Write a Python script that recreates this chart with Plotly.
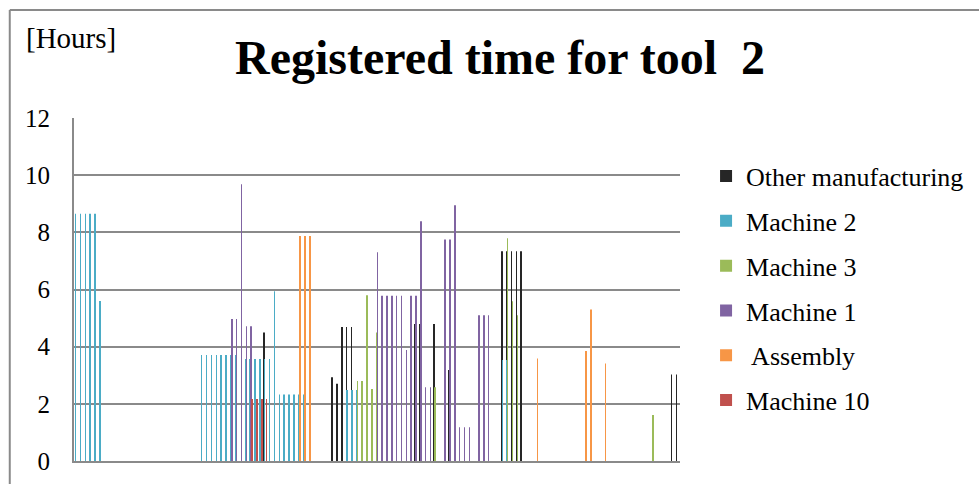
import plotly.graph_objects as go

# Daily registered hours per resource; slots are consecutive day indices (0..124)
n_slots = 125

other_slots = [39, 53, 54, 55, 56, 57, 70, 71, 74, 77, 88, 89, 90, 91, 92, 123, 124]
other_hours = [4.5, 2.93, 2.7, 4.69, 4.69, 4.69, 4.79, 4.79, 4.79, 3.18, 7.34, 7.34, 7.34, 7.34, 7.34, 3.03, 3.03]

m2_slots = [0, 1, 2, 3, 4, 5, 26, 27, 28, 29, 30, 31, 32, 33, 35, 36, 37, 38, 39, 40, 41,
            42, 43, 44, 45, 46, 47, 56, 57, 58, 59, 60, 88, 89]
m2_hours = [8.65, 8.65, 8.65, 8.65, 8.65, 5.6, 3.71, 3.71, 3.71, 3.71, 3.71, 3.71, 3.71, 3.71,
            3.57, 3.57, 3.57, 3.57, 3.57, 3.57, 5.94, 2.33, 2.33, 2.33, 2.33, 2.33, 2.33,
            2.48, 2.48, 2.48, 2.48, 2.48, 3.53, 3.53]

m3_slots = [58, 59, 60, 61, 62, 70, 74, 89, 90, 91, 119]
m3_hours = [2.8, 2.8, 5.8, 2.52, 4.5, 1.72, 2.58, 7.79, 5.59, 5.1, 1.61]

m1_slots = [32, 33, 34, 35, 36, 62, 63, 64, 65, 66, 67, 68, 69, 70, 71, 72, 73,
            76, 77, 78, 79, 80, 81, 83, 84, 85]
m1_hours = [4.97, 4.97, 9.68, 4.71, 4.71, 7.3, 5.78, 5.78, 5.78, 5.78, 5.78, 3.88, 5.78, 5.78,
            8.39, 2.58, 2.58, 7.75, 7.75, 8.95, 1.18, 1.18, 1.18, 5.1, 5.1, 5.1]

asm_slots = [46, 47, 48, 95, 105, 106, 109]
asm_hours = [7.87, 7.87, 7.87, 3.59, 3.85, 5.3, 3.41]

m10_slots = [36, 37, 38, 39]
m10_hours = [2.17, 2.17, 2.17, 2.17]

y_ticks = [0, 2, 4, 6, 8, 10, 12]

series = [
    ("Other manufacturing", other_slots, other_hours, "#262626"),
    ("Machine 2", m2_slots, m2_hours, "#4BACC6"),
    ("Machine 3", m3_slots, m3_hours, "#9BBB59"),
    ("Machine 1", m1_slots, m1_hours, "#8064A2"),
    (" Assembly", asm_slots, asm_hours, "#F79646"),
    ("Machine 10", m10_slots, m10_hours, "#C0504D"),
]

serif = "Liberation Serif, Times New Roman, serif"
grid_col = "#8a8a8a"

fig = go.Figure()
for name, xs, ys, col in series:
    fig.add_trace(go.Bar(
        x=xs, y=ys, name=name, legendgroup=name,
        marker=dict(color=col, line=dict(width=0)),
    ))

fig.update_layout(
    width=979, height=484,
    margin=dict(l=74, r=299, t=118, b=23, autoexpand=False),
    paper_bgcolor="white", plot_bgcolor="white",
    barmode="group", bargap=0.38, bargroupgap=0,
    font=dict(family=serif, color="black"),
    showlegend=True,
    legend=dict(
        x=1.043, y=0.899, xanchor="left", yanchor="top",
        font=dict(family=serif, size=26, color="black"),
        tracegroupgap=8, itemwidth=30, bgcolor="rgba(0,0,0,0)",
    ),
    xaxis=dict(
        range=[-0.5, n_slots - 0.5], showticklabels=False, showgrid=False,
        zeroline=False, showline=True, linecolor=grid_col, linewidth=2, ticks="",
    ),
    yaxis=dict(
        range=[0, 12], tickvals=y_ticks, ticktext=[str(v) for v in y_ticks],
        showgrid=True, gridcolor=grid_col, gridwidth=2, zeroline=False,
        showline=True, linecolor=grid_col, linewidth=2, ticks="",
        tickfont=dict(family=serif, size=25, color="black"),
        ticklabelstandoff=17,
    ),
    annotations=[
        dict(text="<b>Registered time for tool  2</b>", xref="paper", yref="paper",
             x=0.703, y=1.175, xanchor="center", yanchor="middle", showarrow=False,
             font=dict(family=serif, size=48, color="black")),
        dict(text="[Hours]", xref="paper", yref="paper",
             x=-0.083, y=1.232, xanchor="left", yanchor="middle", showarrow=False,
             font=dict(family=serif, size=29, color="black")),
    ],
    shapes=[
        dict(type="line", xref="paper", yref="paper", x0=-0.106, x1=1.6, y0=1.315, y1=1.315,
             line=dict(color="#8a8a8a", width=2)),
        dict(type="line", xref="paper", yref="paper", x0=-0.106, x1=-0.106, y0=1.315, y1=-0.2,
             line=dict(color="#8a8a8a", width=2)),
    ],
)

fig.write_html("out.html")
